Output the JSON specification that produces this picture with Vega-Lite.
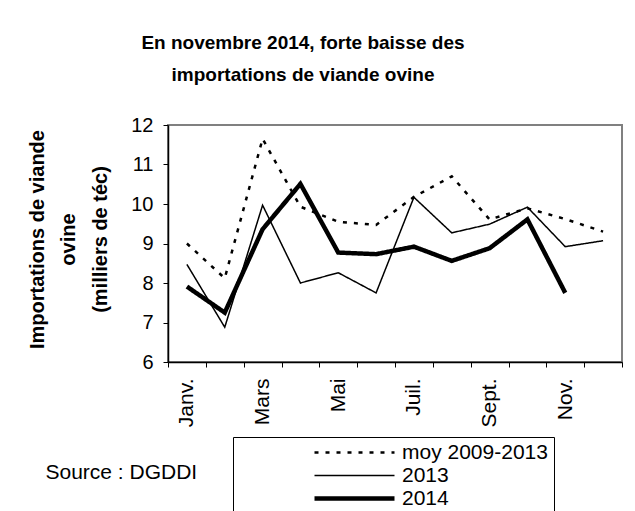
{
  "$schema": "https://vega.github.io/schema/vega-lite/v6.json",
  "autosize": {"type": "none"},
  "padding": {"left": 168, "top": 125, "right": 13, "bottom": 149},
  "width": 454,
  "height": 237,
  "background": "white",
  "config": {
    "font": "Liberation Sans",
    "view": {"stroke": "#808080", "strokeWidth": 2},
    "axis": {"domainColor": "black", "tickColor": "black", "labelColor": "black", "titleColor": "black", "grid": false, "tickSize": 5, "domainWidth": 1.5, "tickWidth": 1},
    "legend": {
      "title": null,
      "orient": "none",
      "legendX": 65,
      "legendY": 312,
      "strokeColor": "black",
      "fillColor": "white",
      "padding": 6,
      "symbolType": "stroke",
      "symbolSize": 6400,
      "symbolStrokeColor": "black",
      "symbolOffset": 73,
      "clipHeight": 19,
      "rowPadding": 1,
      "labelOffset": 5,
      "labelFontSize": 21,
      "labelLimit": 400,
      "labelColor": "black"
    }
  },
  "title": {
    "text": ["En novembre 2014, forte baisse des", "importations de viande ovine"],
    "fontSize": 19,
    "fontWeight": "bold",
    "lineHeight": 32,
    "anchor": "middle",
    "dx": -92,
    "offset": 30,
    "color": "black"
  },
  "data": {
    "values": [
      {"mois": "Janv.", "serie": "moy 2009-2013", "valeur": 9.0},
      {"mois": "Févr.", "serie": "moy 2009-2013", "valeur": 8.12},
      {"mois": "Mars", "serie": "moy 2009-2013", "valeur": 11.65},
      {"mois": "Avr.", "serie": "moy 2009-2013", "valeur": 9.93},
      {"mois": "Mai", "serie": "moy 2009-2013", "valeur": 9.55},
      {"mois": "Juin", "serie": "moy 2009-2013", "valeur": 9.47},
      {"mois": "Juil.", "serie": "moy 2009-2013", "valeur": 10.18},
      {"mois": "Août", "serie": "moy 2009-2013", "valeur": 10.7},
      {"mois": "Sept.", "serie": "moy 2009-2013", "valeur": 9.61},
      {"mois": "Oct.", "serie": "moy 2009-2013", "valeur": 9.89},
      {"mois": "Nov.", "serie": "moy 2009-2013", "valeur": 9.62},
      {"mois": "Déc.", "serie": "moy 2009-2013", "valeur": 9.3},
      {"mois": "Janv.", "serie": "2013", "valeur": 8.47},
      {"mois": "Févr.", "serie": "2013", "valeur": 6.88},
      {"mois": "Mars", "serie": "2013", "valeur": 9.97},
      {"mois": "Avr.", "serie": "2013", "valeur": 8.0},
      {"mois": "Mai", "serie": "2013", "valeur": 8.26},
      {"mois": "Juin", "serie": "2013", "valeur": 7.75},
      {"mois": "Juil.", "serie": "2013", "valeur": 10.17},
      {"mois": "Août", "serie": "2013", "valeur": 9.27},
      {"mois": "Sept.", "serie": "2013", "valeur": 9.49},
      {"mois": "Oct.", "serie": "2013", "valeur": 9.92},
      {"mois": "Nov.", "serie": "2013", "valeur": 8.92},
      {"mois": "Déc.", "serie": "2013", "valeur": 9.07},
      {"mois": "Janv.", "serie": "2014", "valeur": 7.91},
      {"mois": "Févr.", "serie": "2014", "valeur": 7.25},
      {"mois": "Mars", "serie": "2014", "valeur": 9.36},
      {"mois": "Avr.", "serie": "2014", "valeur": 10.51},
      {"mois": "Mai", "serie": "2014", "valeur": 8.77},
      {"mois": "Juin", "serie": "2014", "valeur": 8.73},
      {"mois": "Juil.", "serie": "2014", "valeur": 8.92},
      {"mois": "Août", "serie": "2014", "valeur": 8.56},
      {"mois": "Sept.", "serie": "2014", "valeur": 8.88},
      {"mois": "Oct.", "serie": "2014", "valeur": 9.61},
      {"mois": "Nov.", "serie": "2014", "valeur": 7.75}
    ]
  },
  "mark": {"type": "line", "color": "black", "strokeCap": "butt", "strokeJoin": "miter"},
  "encoding": {
    "x": {
      "field": "mois",
      "type": "ordinal",
      "bandPosition": 0.5,
      "sort": ["Janv.", "Févr.", "Mars", "Avr.", "Mai", "Juin", "Juil.", "Août", "Sept.", "Oct.", "Nov.", "Déc."],
      "scale": {"type": "band", "paddingInner": 0, "paddingOuter": 0},
      "axis": {
        "title": "Source : DGDDI",
        "titleX": -123,
        "titleY": 110,
        "titleAlign": "left",
        "titleBaseline": "middle",
        "titleAngle": 0,
        "titleFontSize": 21,
        "titleFontWeight": "normal",
        "labelAngle": -90,
        "labelAlign": "right",
        "labelBaseline": "middle",
        "labelFontSize": 21,
        "labelPadding": 11,
        "tickBand": "extent",
        "labelExpr": "indexof(['Janv.', 'Mars', 'Mai', 'Juil.', 'Sept.', 'Nov.'], datum.value) >= 0 ? datum.value : ''"
      }
    },
    "y": {
      "field": "valeur",
      "type": "quantitative",
      "scale": {"domain": [6, 12], "nice": false, "zero": false},
      "axis": {
        "values": [6, 7, 8, 9, 10, 11, 12],
        "labelFontSize": 20,
        "labelPadding": 10,
        "title": ["Importations de viande", "ovine", "(milliers de téc)"],
        "titleFontSize": 20,
        "titleFontWeight": "bold",
        "titleLineHeight": 31.5,
        "titleAngle": -90,
        "titleBaseline": "middle",
        "titleAlign": "center",
        "titleX": -131,
        "titleY": 114
      }
    },
    "strokeDash": {
      "field": "serie",
      "type": "ordinal",
      "scale": {"domain": ["moy 2009-2013", "2013", "2014"], "range": [[4, 7], [1, 0], [1, 0]]},
      "legend": {"title": null}
    },
    "strokeWidth": {
      "field": "serie",
      "type": "ordinal",
      "scale": {"type": "ordinal", "domain": ["moy 2009-2013", "2013", "2014"], "range": [2.5, 1.5, 4.5]},
      "legend": {"title": null}
    }
  }
}
